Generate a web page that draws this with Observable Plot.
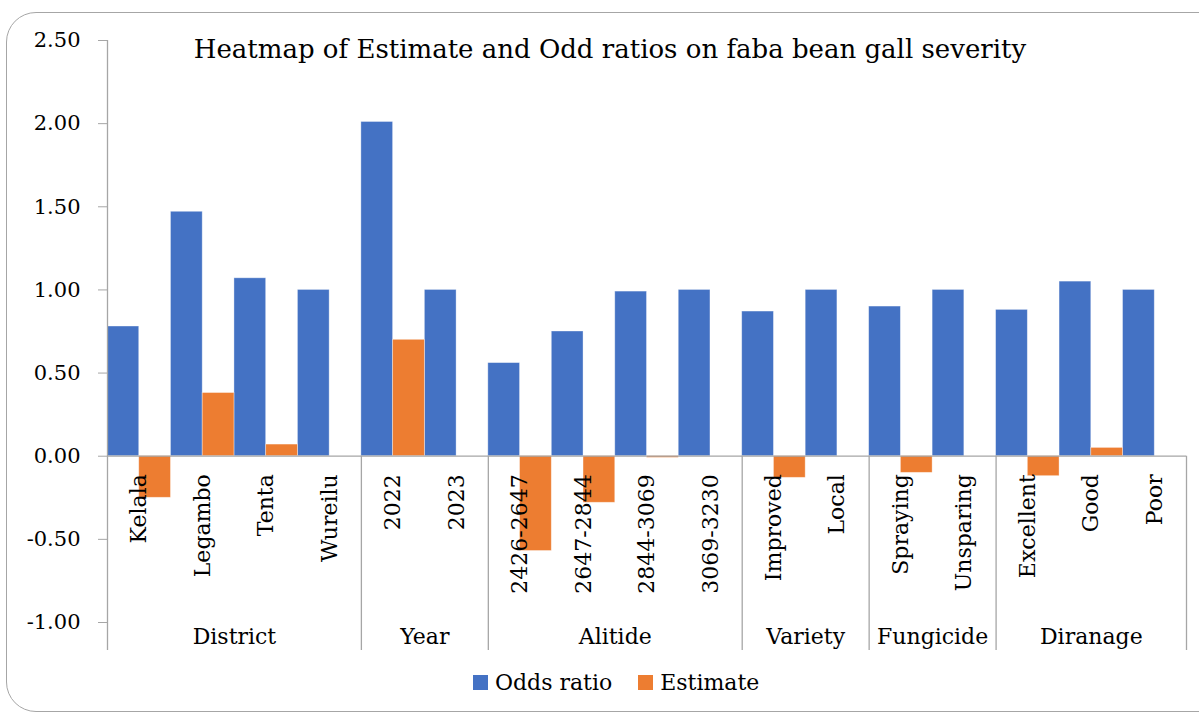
<!DOCTYPE html>
<html>
<head>
<meta charset="utf-8">
<script src="https://cdn.jsdelivr.net/npm/d3@7"></script>
<script src="https://cdn.jsdelivr.net/npm/@observablehq/plot@0.6"></script>
<style>
  html, body { margin: 0; padding: 0; background: #fff; }
  body { width: 1199px; height: 715px; position: relative; overflow: hidden; font-family: "DejaVu Serif", serif; }
  #frame { position: absolute; left: 6px; top: 12px; width: 1260px; height: 700px; border: 1.5px solid #a6a6a6; border-radius: 30px; box-sizing: border-box; }
  #chart { position: absolute; left: 0; top: 0; }
  #title { position: absolute; left: 0; width: 1220px; top: 34px; text-align: center; font-family: "DejaVu Serif", serif; font-size: 26px; line-height: 30px; color: #000; }
  #legend { position: absolute; left: 473px; top: 671px; font-family: "DejaVu Serif", serif; font-size: 22px; line-height: 24px; color: #000; white-space: nowrap; }
  #legend .sw { display: inline-block; width: 15px; height: 15px; vertical-align: baseline; margin-right: 7px; }
  #legend .item { margin-right: 26px; font-family: "DejaVu Serif", serif; }
</style>
</head>
<body>
<div id="frame"></div>
<div id="chart"></div>
<div id="title"></div>
<div id="legend"></div>
<script>
const titleText = "Heatmap of Estimate and Odd ratios on faba bean gall severity";
const categories = ["Kelala", "Legambo", "Tenta", "Wureilu", "2022", "2023",
  "2426-2647", "2647-2844", "2844-3069", "3069-3230", "Improved", "Local",
  "Spraying", "Unsparing", "Excellent", "Good", "Poor"];
const groupNames = ["District", "Year", "Alitide", "Variety", "Fungicide", "Diranage"];
const groupSizes = [4, 2, 4, 2, 2, 3];
const oddsRatio = [0.78, 1.47, 1.07, 1.00, 2.01, 1.00, 0.56, 0.75, 0.99, 1.00, 0.87, 1.00, 0.90, 1.00, 0.88, 1.05, 1.00];
const estimate = [-0.25, 0.38, 0.07, 0, 0.70, 0, -0.57, -0.28, -0.01, 0, -0.13, 0, -0.10, 0, -0.12, 0.05, 0];
const yTicks = [-1.0, -0.5, 0, 0.5, 1.0, 1.5, 2.0, 2.5];
const seriesNames = ["Odds ratio", "Estimate"];
const seriesColors = ["#4472C4", "#ED7D31"];

const rows = categories.map((c, i) => ({cat: c, i, odds: oddsRatio[i], est: estimate[i]}));
let acc = 0;
const groups = groupNames.map((g, k) => {
  const start = acc; acc += groupSizes[k];
  return {name: g, start, end: acc};
});
const boundaries = [0, ...groups.map(g => g.end)];

const yMax = d3.max(yTicks);
const yMinTick = d3.min(yTicks);
// axis extends a little below the lowest tick to make room for group labels
const yMin = yMinTick - (yMax - yMinTick) * 28 / 582;
const axisColor = "#a6a6a6";
const font = "DejaVu Serif";
const fmt = v => v.toFixed(2); // hyphen-minus, as in the original

const chart = Plot.plot({
  width: 1199,
  height: 715,
  marginLeft: 107,
  marginRight: 13,
  marginTop: 40,
  marginBottom: 65,
  style: {fontFamily: font, background: "transparent", color: "#000", overflow: "visible"},
  x: {domain: [0, categories.length], axis: null},
  y: {domain: [yMin, yMax], axis: null},
  marks: [
    Plot.rectY(rows, {x1: d => d.i, x2: d => d.i + 0.5, y1: 0, y2: "odds", fill: seriesColors[0], stroke: "#ffffff", strokeOpacity: 0.45, strokeWidth: 0.8}),
    Plot.rectY(rows.filter(d => d.est !== 0), {x1: d => d.i + 0.5, x2: d => d.i + 1, y1: 0, y2: "est", fill: seriesColors[1], stroke: "#ffffff", strokeOpacity: 0.45, strokeWidth: 0.8}),
    Plot.ruleY([0], {x1: 0, x2: categories.length, stroke: axisColor, strokeWidth: 1.3}),
    Plot.ruleX([0], {y1: yMin, y2: yMax, stroke: axisColor, strokeWidth: 1.3}),
    Plot.ruleX(boundaries.slice(1), {y1: yMin, y2: 0, stroke: axisColor, strokeWidth: 1.3}),
    Plot.axisY(yTicks, {anchor: "left", tickSize: 9, tickPadding: 18, stroke: axisColor, fill: "#000", fontSize: 21, tickFormat: fmt, label: null}),
    Plot.text(rows, {x: d => d.i + 0.5, y: 0, text: "cat", rotate: -90, textAnchor: "end", lineAnchor: "middle", dy: 18, fontSize: 22, fill: "#000"}),
    Plot.text(groups, {x: d => (d.start + d.end) / 2, y: yMin, text: "name", lineAnchor: "bottom", dy: -7, fontSize: 22, fill: "#000"})
  ]
});
document.getElementById("chart").appendChild(chart);
document.getElementById("title").textContent = titleText;

const legend = document.getElementById("legend");
seriesNames.forEach((name, k) => {
  const item = document.createElement("span");
  item.className = "item";
  const sw = document.createElement("span");
  sw.className = "sw";
  sw.style.background = seriesColors[k];
  item.appendChild(sw);
  item.appendChild(document.createTextNode(name));
  legend.appendChild(item);
});
</script>
</body>
</html>
